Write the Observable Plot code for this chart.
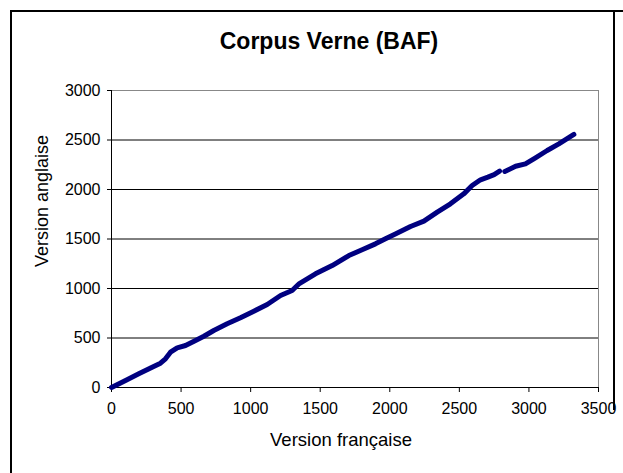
<!DOCTYPE html>
<html><head><meta charset="utf-8">
<script src="https://cdn.jsdelivr.net/npm/d3@7"></script>
<script src="https://cdn.jsdelivr.net/npm/@observablehq/plot@0.6"></script>
<style>
html,body{margin:0;padding:0;background:#fff;}
#wrap{position:relative;width:623px;height:473px;overflow:hidden;font-family:"Liberation Sans",Arial,sans-serif;color:#000}
#frame{position:absolute;left:10px;top:10px;width:620px;height:480px;border-left:2px solid #000;border-top:2px solid #000;}
#rframe{position:absolute;left:613px;top:10px;width:2px;height:400px;background:#000}
#title{position:absolute;left:329px;top:30px;transform:translateX(-50%);font-size:23px;font-weight:bold;line-height:23px;white-space:nowrap}
#xlab{position:absolute;left:341px;top:431px;transform:translateX(-50%);font-size:18.5px;line-height:18px;white-space:nowrap}
#ylab{position:absolute;left:42px;top:201px;transform:translate(-50%,-50%) rotate(-90deg);font-size:18px;line-height:18px;white-space:nowrap}
#chart{position:absolute;left:0;top:0}
</style></head>
<body>
<div id="wrap">
  <div id="frame"></div>
  <div id="rframe"></div>
  <div id="chart"></div>
  <div id="title">Corpus Verne (BAF)</div>
  <div id="xlab">Version française</div>
  <div id="ylab">Version anglaise</div>
</div>
<script>
// French sentence index (x) vs English sentence index (y); null marks the gap in the series
const versionFrancaise = [0, 101, 196, 292, 352, 388, 424, 472, 532, 604, 664, 735, 831, 927, 1023, 1119, 1215, 1298, 1350, 1466, 1586, 1706, 1801, 1897, 1969, 2040, 2149, 2245, 2341, 2436, 2532, 2592, 2652, 2705, 2750, 2789, null, 2827, 2904, 2975, 3047, 3131, 3215, 3323];
const versionAnglaise  = [0, 71, 138, 205, 246, 290, 357, 401, 424, 475, 518, 576, 643, 704, 771, 838, 929, 980, 1050, 1148, 1232, 1333, 1391, 1451, 1502, 1550, 1626, 1680, 1771, 1855, 1956, 2040, 2098, 2125, 2150, 2185, null, 2182, 2235, 2259, 2320, 2394, 2461, 2556];
const xTicks = [0, 500, 1000, 1500, 2000, 2500, 3000, 3500];
const yTicks = [0, 500, 1000, 1500, 2000, 2500, 3000];
const yGrid = [500, 1000, 1500, 2000, 2500];

const points = versionFrancaise.map((x, i) => ({x, y: versionAnglaise[i]}));
const fmt = d => String(d);

const chart = Plot.plot({
  width: 623, height: 473,
  marginLeft: 111, marginRight: 25, marginTop: 90, marginBottom: 86,
  style: {fontFamily: "Liberation Sans, Arial, sans-serif", fontSize: "16px", color: "#000", background: "transparent", overflow: "visible"},
  x: {domain: [0, 3500], label: null},
  y: {domain: [0, 3000], label: null},
  marks: [
    Plot.ruleY(yGrid, {stroke: "#000", strokeWidth: 1}),
    Plot.ruleY([3000], {stroke: "#888", strokeWidth: 1}),
    Plot.ruleX([3500], {stroke: "#888", strokeWidth: 1}),
    Plot.axisX(xTicks, {tickSize: 5, tickPadding: 10, tickFormat: fmt, fontSize: 16, label: null}),
    Plot.axisY(yTicks, {tickSize: 4, tickPadding: 7, tickFormat: fmt, fontSize: 16, label: null}),
    Plot.ruleX([0], {stroke: "#000"}),
    Plot.ruleY([0], {stroke: "#000"}),
    Plot.line(points, {x: "x", y: "y", stroke: "#000080", strokeWidth: 5, strokeLinejoin: "round", strokeLinecap: "round"})
  ]
});
document.getElementById("chart").appendChild(chart);
</script>
</body></html>
